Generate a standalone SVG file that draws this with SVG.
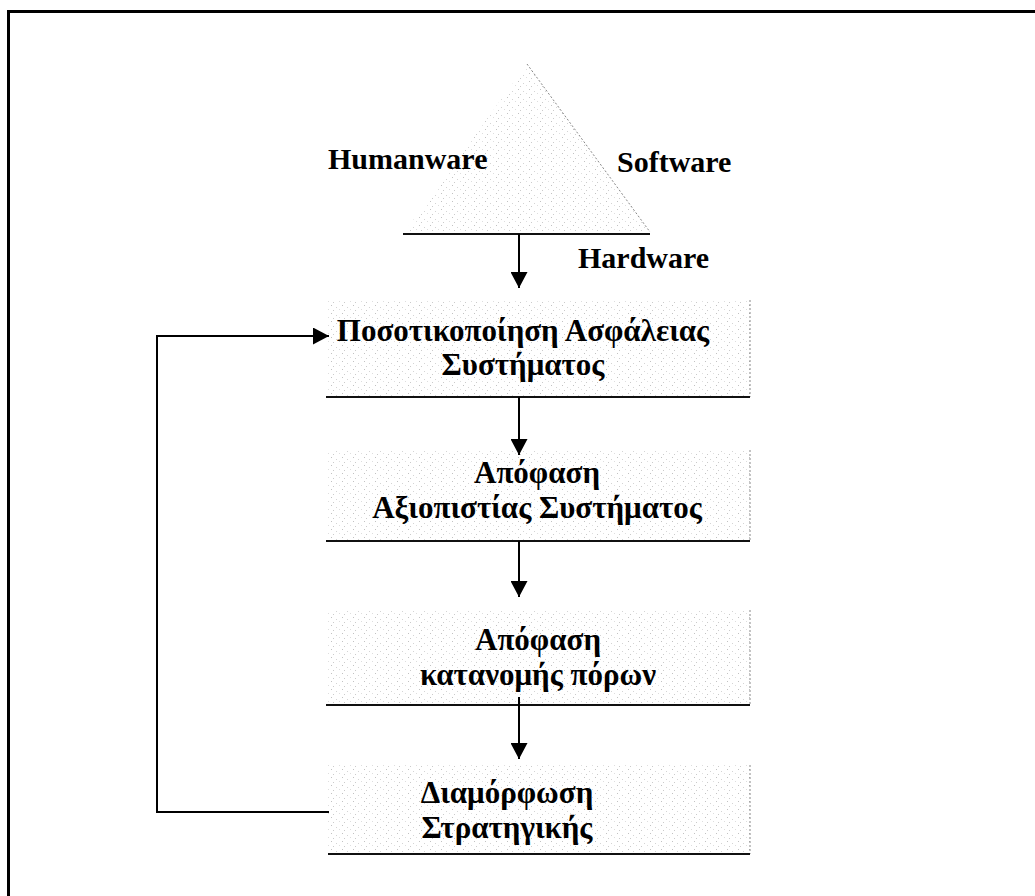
<svg xmlns="http://www.w3.org/2000/svg" width="1035" height="896" viewBox="0 0 1035 896">
  <defs>
    <!-- faint stipple used as the screen-tone fill of the shapes -->
    <pattern id="stipple" width="11" height="8" patternUnits="userSpaceOnUse">
      <rect x="1" y="1" width="1" height="1" fill="#c2c2c2"/>
      <rect x="6" y="3" width="1" height="1" fill="#d4d4d4"/>
      <rect x="3" y="6" width="1" height="1" fill="#cbcbcb"/>
      <rect x="9" y="5" width="1" height="1" fill="#dedede"/>
    </pattern>
    <marker id="head" viewBox="0 0 16 17" refX="16" refY="8.5" markerWidth="16" markerHeight="17" markerUnits="userSpaceOnUse" orient="auto">
      <path d="M0,0 L16,8.5 L0,17 Z" fill="#000"/>
    </marker>
  </defs>
  <style>
    .lbl { font-family: "Liberation Serif", "Times New Roman", serif; font-weight: bold; font-size: 30px; fill: #000; }
    .gr { font-size: 31px; }
    .box { fill: url(#stipple); stroke: none; }
    .base { stroke: #111; stroke-width: 2.2; fill: none; }
    .edge { stroke: #888; stroke-width: 1; stroke-dasharray: 2 2; fill: none; }
    .conn { stroke: #000; stroke-width: 2; fill: none; marker-end: url(#head); }
    .frame { stroke: #000; stroke-width: 3; fill: none; }
  </style>

  <rect width="1035" height="896" fill="#fff"/>

  <!-- outer frame: top and left rules -->
  <path class="frame" d="M8.5,896 V11.5 H1035"/>

  <!-- triangle: humanware / software / hardware -->
  <g id="triangle">
    <polygon class="box" points="527,64 403,234 650,234"/>
    <line class="edge" x1="527" y1="64" x2="650" y2="232" stroke="#555"/>
    <line class="base" x1="403" y1="234" x2="650" y2="234"/>
    <text class="lbl" x="328" y="169">Humanware</text>
    <text class="lbl" x="617" y="172" font-size="31.5">Software</text>
    <text class="lbl" x="578" y="268">Hardware</text>
  </g>

  <g id="box1">
    <rect class="box" x="326" y="300" width="424" height="97"/>
    <line class="edge" x1="750" y1="300" x2="750" y2="397"/>
    <line class="base" x1="326" y1="397" x2="750" y2="397"/>
    <text class="lbl gr" x="523" y="341" text-anchor="middle">Ποσοτικοποίηση Ασφάλειας</text>
    <text class="lbl gr" x="523" y="375" text-anchor="middle">Συστήματος</text>
  </g>

  <g id="box2">
    <rect class="box" x="326" y="450" width="424" height="91"/>
    <line class="edge" x1="750" y1="450" x2="750" y2="541"/>
    <line class="base" x1="326" y1="541" x2="750" y2="541"/>
    <text class="lbl gr" x="537" y="483" text-anchor="middle">Απόφαση</text>
    <text class="lbl gr" x="537" y="518" text-anchor="middle">Αξιοπιστίας Συστήματος</text>
  </g>

  <g id="box3">
    <rect class="box" x="326" y="610" width="424" height="95"/>
    <line class="edge" x1="750" y1="610" x2="750" y2="705"/>
    <line class="base" x1="326" y1="705" x2="750" y2="705"/>
    <text class="lbl gr" x="538" y="650" text-anchor="middle">Απόφαση</text>
    <text class="lbl gr" x="538" y="685" text-anchor="middle">κατανομής πόρων</text>
  </g>

  <g id="box4">
    <rect class="box" x="328" y="765" width="422" height="89"/>
    <line class="edge" x1="750" y1="765" x2="750" y2="854"/>
    <line class="base" x1="328" y1="854" x2="750" y2="854"/>
    <text class="lbl gr" x="507" y="803" text-anchor="middle">Διαμόρφωση</text>
    <text class="lbl gr" x="507" y="838" text-anchor="middle">Στρατηγικής</text>
  </g>

  <g id="connectors">
    <line class="conn" x1="519" y1="234" x2="519" y2="288"/>
    <line class="conn" x1="519" y1="397" x2="519" y2="455"/>
    <line class="conn" x1="519" y1="541" x2="519" y2="597"/>
    <line class="conn" x1="519" y1="697" x2="519" y2="759"/>
    <path class="conn" d="M329,812 H157 V336 H329"/>
  </g>
</svg>
